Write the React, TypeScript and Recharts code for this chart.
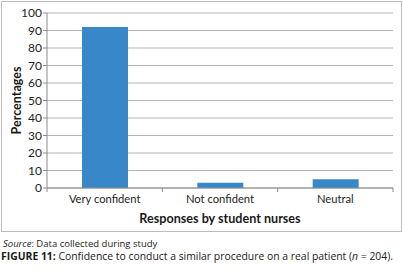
import { BarChart, Bar, XAxis, YAxis, CartesianGrid, Label } from "recharts";

const categories = ["Very confident", "Not confident", "Neutral"];
const percentages = [92, 3, 5];
const yTicks = [0, 10, 20, 30, 40, 50, 60, 70, 80, 90, 100];

const chartData = categories.map((name, i) => ({ name, value: percentages[i] }));

const FONT = "Lato, 'Liberation Sans', sans-serif";

// Excel-style tick marks sit between categories, not under the labels
function CategoryTick(props: any) {
  const { x, y, payload, index, visibleTicksCount } = props;
  const half = payload?.offset ?? 0;
  const axisY = y - 7;
  const isLast = index === visibleTicksCount - 1;
  return (
    <g>
      <line x1={x - half} x2={x - half} y1={axisY} y2={axisY + 4} stroke="#8c8c8c" />
      {isLast && <line x1={x + half} x2={x + half} y1={axisY} y2={axisY + 4} stroke="#8c8c8c" />}
      <text x={x} y={y} dy="0.71em" textAnchor="middle" fill="#1e1e1e" fontSize={11.2} fontFamily={FONT}>
        {payload.value}
      </text>
    </g>
  );
}

export default function App() {
  return (
    <div style={{ position: "absolute", left: 0, top: 0, width: 403, height: 270, background: "#fff" }}>
      <div
        style={{
          position: "absolute",
          left: 1,
          top: 1,
          width: 401,
          height: 231,
          boxSizing: "border-box",
          border: "1px solid #bdbdbd",
        }}
      >
        <BarChart
          width={399}
          height={229}
          data={chartData}
          margin={{ top: 11, right: 8, left: 0, bottom: 0 }}
          barSize={46}
        >
          <CartesianGrid vertical={false} stroke="#b4b4b4" strokeWidth={1} />
          <XAxis
            dataKey="name"
            height={43}
            axisLine={{ stroke: "#8c8c8c" }}
            tickLine={false}
            tickSize={4}
            tickMargin={3}
            tick={<CategoryTick />}
            interval={0}
          >
            <Label
              content={({ viewBox }: any) => (
                <text
                  x={viewBox.x + viewBox.width / 2}
                  y={viewBox.y + 34.5}
                  textAnchor="middle"
                  fontSize={12.6}
                  fontWeight="bold"
                  fill="#1a1a1a"
                  fontFamily={FONT}
                >
                  Responses by student nurses
                </text>
              )}
            />
          </XAxis>
          <YAxis
            width={45}
            domain={[0, 100]}
            ticks={yTicks}
            interval={0}
            axisLine={{ stroke: "#8c8c8c" }}
            tickLine={{ stroke: "#8c8c8c" }}
            tickSize={4}
            tickMargin={1}
            tick={{ fill: "#1e1e1e", fontSize: 12, fontFamily: FONT }}
          >
            <Label
              content={({ viewBox }: any) => {
                const cx = viewBox.x + 14;
                const cy = viewBox.y + viewBox.height / 2;
                return (
                  <text
                    x={cx}
                    y={cy}
                    transform={`rotate(-90 ${cx} ${cy})`}
                    textAnchor="middle"
                    dominantBaseline="central"
                    fontSize={12.5}
                    fontWeight="bold"
                    fill="#1a1a1a"
                    fontFamily={FONT}
                  >
                    Percentages
                  </text>
                );
              }}
            />
          </YAxis>
          <Bar dataKey="value" fill="#3787c9" isAnimationActive={false} />
        </BarChart>
      </div>
      <svg
        width={403}
        height={38}
        style={{ position: "absolute", left: 0, top: 232 }}
        fontFamily="'Open Sans', sans-serif"
        fill="#1a1a1a"
      >
        <text x={3} y={15} fontSize={9.5}>
          <tspan fontStyle="italic">Source</tspan>: Data collected during study
        </text>
        <text x={1} y={28} fontSize={10.4}>
          <tspan fontWeight="bold">FIGURE 11:</tspan> Confidence to conduct a similar procedure on a real patient (
          <tspan fontStyle="italic">n</tspan> = 204).
        </text>
      </svg>
    </div>
  );
}
